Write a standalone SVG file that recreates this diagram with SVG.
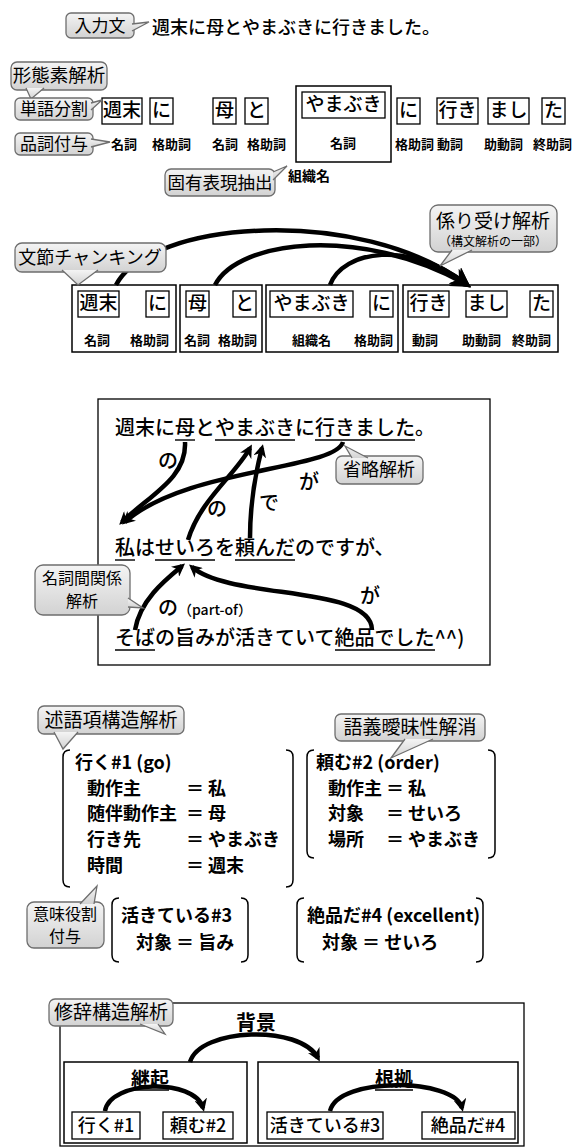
<svg xmlns="http://www.w3.org/2000/svg" width="579" height="1148" viewBox="0 0 579 1148">
<defs>
<linearGradient id="cg" x1="0" y1="0" x2="0" y2="1"><stop offset="0" stop-color="#f4f4f4"/><stop offset="1" stop-color="#d2d2d2"/></linearGradient>
<marker id="ah" viewBox="0 0 10 10" refX="7" refY="5" markerWidth="13" markerHeight="13" markerUnits="userSpaceOnUse" orient="auto"><path d="M0,0 L10,5 L0,10 L3,5 Z" fill="#000"/></marker>
<marker id="ahb" viewBox="0 0 10 10" refX="7" refY="5" markerWidth="20" markerHeight="20" markerUnits="userSpaceOnUse" orient="auto"><path d="M0,0 L10,5 L0,10 L3,5 Z" fill="#000"/></marker>
<style>
text{font-family:"Noto Sans CJK JP","Noto Sans",sans-serif;fill:#000}
.co rect,.co path{fill:url(#cg);stroke:#6e6e6e;stroke-width:1.3}
.co text{font-size:18px;text-anchor:middle}
.wb{fill:#fff;stroke:#000;stroke-width:1.3}
.bb{fill:#fff;stroke:#000;stroke-width:1.5}
.w{font-size:19px;font-weight:500;text-anchor:middle}
.lb{font-size:13px;font-weight:bold}
.s{font-size:20px;font-weight:500}
.ul{stroke:#000;stroke-width:1.4}
.arr{fill:none;stroke:#000;stroke-width:4.5;marker-end:url(#ah)}
.arrb{fill:none;stroke:#000;stroke-width:4.5;marker-end:url(#ahb)}
.pa{font-size:18px;font-weight:bold}
.br{fill:none;stroke:#000;stroke-width:1.5}
.rl{font-size:19px;font-weight:bold;text-anchor:middle}
</style>
</defs>
<rect width="579" height="1148" fill="#fff"/>

<!-- Section 1 nodes -->
<text x="152" y="34" style="font-size:18px;font-weight:500">週末に母とやまぶきに行きました。</text>
<g id="words1">
<rect class="wb" x="102" y="98" width="40" height="26"/><text class="w" x="122" y="117">週末</text>
<rect class="wb" x="150" y="98" width="23" height="26"/><text class="w" x="161.5" y="117">に</text>
<rect class="wb" x="213" y="98" width="23" height="26"/><text class="w" x="224.5" y="117">母</text>
<rect class="wb" x="245" y="98" width="23" height="26"/><text class="w" x="256.5" y="117">と</text>
<rect class="bb" x="296" y="86" width="95" height="76"/>
<rect class="wb" x="302" y="92" width="83" height="26"/><text class="w" x="343.5" y="111">やまぶき</text>
<rect class="wb" x="397" y="98" width="23" height="26"/><text class="w" x="408.5" y="117">に</text>
<rect class="wb" x="437" y="98" width="41" height="26"/><text class="w" x="457.5" y="117">行き</text>
<rect class="wb" x="488" y="98" width="41" height="26"/><text class="w" x="508.5" y="117">まし</text>
<rect class="wb" x="542" y="98" width="23" height="26"/><text class="w" x="553.5" y="117">た</text>
<text class="lb" x="111" y="149">名詞</text>
<text class="lb" x="152" y="149">格助詞</text>
<text class="lb" x="212" y="149">名詞</text>
<text class="lb" x="247" y="149">格助詞</text>
<text class="lb" x="330" y="148">名詞</text>
<text class="lb" x="395" y="149">格助詞</text>
<text class="lb" x="437" y="149">動詞</text>
<text class="lb" x="484" y="149">助動詞</text>
<text class="lb" x="533" y="149">終助詞</text>
<text class="lb" x="288" y="181" style="font-size:14px">組織名</text>
</g>

<!-- Section 2 nodes -->
<g id="bun1"><rect class="bb" x="72" y="285" width="104" height="67"/>
<rect class="wb" x="78" y="291" width="41" height="26"/><text class="w" x="98.5" y="310">週末</text>
<rect class="wb" x="146" y="291" width="23" height="26"/><text class="w" x="157.5" y="310">に</text>
<text class="lb" x="84" y="345">名詞</text><text class="lb" x="130" y="345">格助詞</text></g>
<g id="bun2"><rect class="bb" x="180" y="285" width="82" height="67"/>
<rect class="wb" x="186" y="291" width="23" height="26"/><text class="w" x="197.5" y="310">母</text>
<rect class="wb" x="233" y="291" width="23" height="26"/><text class="w" x="244.5" y="310">と</text>
<text class="lb" x="184" y="345">名詞</text><text class="lb" x="218" y="345">格助詞</text></g>
<g id="bun3"><rect class="bb" x="266" y="285" width="132" height="67"/>
<rect class="wb" x="270" y="291" width="83" height="26"/><text class="w" x="311.5" y="310">やまぶき</text>
<rect class="wb" x="370" y="291" width="23" height="26"/><text class="w" x="381.5" y="310">に</text>
<text class="lb" x="292" y="345">組織名</text><text class="lb" x="354" y="345">格助詞</text></g>
<g id="bun4"><rect class="bb" x="403" y="285" width="155" height="67"/>
<rect class="wb" x="408" y="291" width="41" height="26"/><text class="w" x="428.5" y="310">行き</text>
<rect class="wb" x="466" y="291" width="41" height="26"/><text class="w" x="486.5" y="310">まし</text>
<rect class="wb" x="530" y="291" width="23" height="26"/><text class="w" x="541.5" y="310">た</text>
<text class="lb" x="412" y="345">動詞</text><text class="lb" x="462" y="345">助動詞</text><text class="lb" x="512" y="345">終助詞</text></g>

<!-- Section 3 frame -->
<g id="discourse">
<rect x="98" y="399" width="392" height="266" fill="#fff" stroke="#000" stroke-width="1.3"/>
<text class="s" x="115" y="435">週末に母とやまぶきに行きました。</text>
<line class="ul" x1="175" y1="440" x2="195" y2="440"/><line class="ul" x1="215" y1="440" x2="295" y2="440"/><line class="ul" x1="315" y1="440" x2="415" y2="440"/>
<text class="s" x="115" y="555">私はせいろを頼んだのですが、</text>
<line class="ul" x1="115" y1="560" x2="135" y2="560"/><line class="ul" x1="155" y1="560" x2="215" y2="560"/><line class="ul" x1="235" y1="560" x2="295" y2="560"/>
<text class="s" x="115" y="645">そばの旨みが活きていて絶品でした^^)</text>
<line class="ul" x1="115" y1="650" x2="155" y2="650"/><line class="ul" x1="335" y1="650" x2="435" y2="650"/>
<text class="s" x="158" y="468">の</text>
<text class="s" x="299" y="489">が</text>
<text class="s" x="207" y="516">の</text>
<text class="s" x="259" y="510">で</text>
<text class="s" x="158" y="615">の<tspan style="font-size:14px">（part-of）</tspan></text>
<text class="s" x="360" y="603">が</text>
</g>

<!-- Section 4 nodes -->
<g id="frame1">
<path class="br" d="M70,750 Q63,750 63,757 L63,880 Q63,887 70,887"/><path class="br" d="M286,750 Q293,750 293,757 L293,880 Q293,887 286,887"/>
<text class="pa" x="75" y="769">行く#1 (go)</text>
<text class="pa" x="87" y="795">動作主</text><text class="pa" x="186" y="795">＝ 私</text>
<text class="pa" x="87" y="820">随伴動作主</text><text class="pa" x="186" y="820">＝ 母</text>
<text class="pa" x="87" y="846">行き先</text><text class="pa" x="186" y="846">＝ やまぶき</text>
<text class="pa" x="87" y="872">時間</text><text class="pa" x="186" y="872">＝ 週末</text>
</g>
<g id="frame2">
<path class="br" d="M314,750 Q307,750 307,757 L307,851 Q307,858 314,858"/><path class="br" d="M488,750 Q495,750 495,757 L495,851 Q495,858 488,858"/>
<text class="pa" x="316" y="769">頼む#2 (order)</text>
<text class="pa" x="328" y="795">動作主</text><text class="pa" x="386" y="795">＝ 私</text>
<text class="pa" x="328" y="820">対象</text><text class="pa" x="386" y="820">＝ せいろ</text>
<text class="pa" x="328" y="846">場所</text><text class="pa" x="386" y="846">＝ やまぶき</text>
</g>
<g id="frame3">
<path class="br" d="M119,898 Q112,898 112,905 L112,955 Q112,962 119,962"/><path class="br" d="M241,898 Q248,898 248,905 L248,955 Q248,962 241,962"/>
<text class="pa" x="121" y="922">活きている#3</text>
<text class="pa" x="136" y="949">対象 ＝ 旨み</text>
</g>
<g id="frame4">
<path class="br" d="M304,898 Q297,898 297,905 L297,955 Q297,962 304,962"/><path class="br" d="M476,898 Q483,898 483,905 L483,955 Q483,962 476,962"/>
<text class="pa" x="307" y="922">絶品だ#4 (excellent)</text>
<text class="pa" x="322" y="949">対象 ＝ せいろ</text>
</g>

<!-- Section 5 nodes -->
<g id="rst">
<rect x="60" y="1003" width="464" height="143" fill="#fff" stroke="#000" stroke-width="1.3"/>
<text class="rl" x="256" y="1030" style="font-size:20px">背景</text>
</g>
<g id="seq"><rect class="bb" x="64" y="1062" width="183" height="81"/>
<text class="rl" x="150" y="1086">継起</text><line class="ul" x1="132" y1="1090" x2="169" y2="1090"/>
<rect class="wb" x="72" y="1112" width="68" height="27"/><text class="w" x="106" y="1132" style="font-size:18px">行く#1</text>
<rect class="wb" x="163" y="1112" width="70" height="27"/><text class="w" x="198" y="1132" style="font-size:18px">頼む#2</text></g>
<g id="evid"><rect class="bb" x="258" y="1062" width="260" height="81"/>
<text class="rl" x="394" y="1086">根拠</text><line class="ul" x1="375" y1="1090" x2="413" y2="1090"/>
<rect class="wb" x="267" y="1112" width="116" height="27"/><text class="w" x="325" y="1132" style="font-size:18px">活きている#3</text>
<rect class="wb" x="422" y="1112" width="93" height="27"/><text class="w" x="468" y="1132" style="font-size:18px">絶品だ#4</text></g>

<!-- Connectors -->
<g id="connectors">
<path class="arrb" d="M116,285 C150,220 360,205 466,284"/>
<path class="arrb" d="M215,285 C238,240 360,225 466,284"/>
<path class="arrb" d="M330,285 C343,250 410,240 466,284"/>
<path class="arr" d="M185,442 C187,478 150,495 122,522"/>
<path class="arr" d="M343,442 C335,470 185,468 125,522"/>
<path class="arr" d="M188,540 C200,500 235,475 250,448"/>
<path class="arr" d="M250,538 C250,505 255,475 262,448"/>
<path class="arr" d="M135,630 C140,600 165,580 182,566"/>
<path class="arr" d="M372,630 C372,585 230,600 192,567"/>
<path class="arr" d="M190,1062 C200,1028 300,1024 318,1058"/>
<path class="arr" d="M105,1111 C110,1080 195,1078 203,1108"/>
<path class="arr" d="M330,1111 C338,1076 455,1078 462,1108"/>
</g>

<!-- Callouts -->
<g id="input" class="co"><rect x="66" y="13" width="68" height="25" rx="5"/><path d="M132,24 L149,22 L132,31"/><text x="100" y="32" style="font-size:17px">入力文</text></g>
<g id="morph" class="co"><rect x="11" y="62" width="96" height="28" rx="6"/><path d="M26,88 L31,99 L44,88"/><text x="59" y="82" style="font-size:18.5px">形態素解析</text></g>
<g id="seg" class="co"><rect x="15" y="98" width="78" height="22" rx="5"/><path d="M91,103 L102,100 L91,110"/><text x="54" y="115" style="font-size:17px">単語分割</text></g>
<g id="pos" class="co"><rect x="15" y="133" width="78" height="22" rx="5"/><path d="M91,139 L110,142 L91,147"/><text x="54" y="150" style="font-size:17px">品詞付与</text></g>
<g id="ner" class="co"><rect x="165" y="169" width="110" height="27" rx="6"/><path d="M273,172 L287,166 L273,180"/><text x="220" y="189" style="font-size:17.5px">固有表現抽出</text></g>
<g id="dep" class="co"><rect x="430" y="205" width="127" height="47" rx="8"/><path d="M452,250 L440,266 L472,250"/><text x="493" y="228" style="font-size:19px">係り受け解析</text><text x="493" y="246" style="font-size:12px">（構文解析の一部）</text></g>
<g id="chunk" class="co"><rect x="15" y="243" width="151" height="29" rx="7"/><path d="M62,270 L78,285 L98,270"/><text x="90" y="264">文節チャンキング</text></g>
<g id="ellipsis" class="co"><rect x="336" y="456" width="87" height="28" rx="6"/><path d="M352,458 L345,446 L368,458"/><text x="379" y="476">省略解析</text></g>
<g id="nounrel" class="co"><rect x="35" y="565" width="95" height="50" rx="8"/><path d="M128,598 L143,608 L128,607"/><text x="82" y="584" style="font-size:16px">名詞間関係</text><text x="82" y="607" style="font-size:16px">解析</text></g>
<g id="pas" class="co"><rect x="38" y="706" width="146" height="28" rx="6"/><path d="M54,732 L63,749 L78,732"/><text x="111" y="727" style="font-size:19px">述語項構造解析</text></g>
<g id="wsd" class="co"><rect x="335" y="714" width="150" height="27" rx="6"/><path d="M405,739 L391,758 L433,739"/><text x="410" y="734" style="font-size:19px">語義曖昧性解消</text></g>
<g id="srl" class="co"><rect x="27" y="902" width="77" height="46" rx="7"/><path d="M80,904 L97,886 L94,904"/><text x="65" y="920" style="font-size:16px">意味役割</text><text x="65" y="942" style="font-size:16px">付与</text></g>
<g id="rst-label" class="co"><rect x="49" y="999" width="124" height="27" rx="6"/><path d="M140,1024 L165,1034 L158,1024"/><text x="111" y="1019" style="font-size:19px">修辞構造解析</text></g>
</svg>
